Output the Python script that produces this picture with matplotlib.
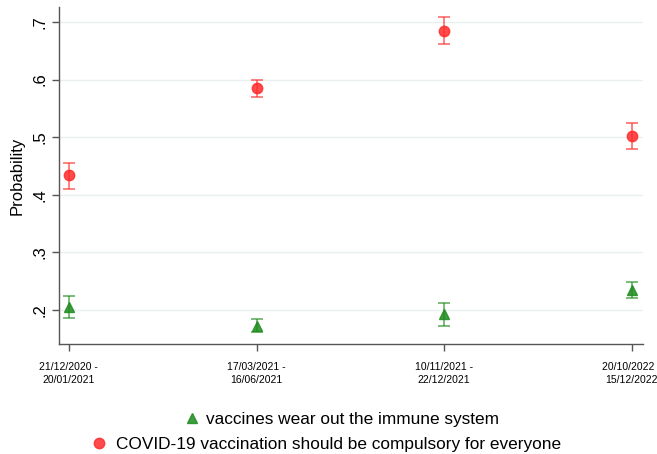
import matplotlib
matplotlib.use("Agg")
import matplotlib.pyplot as plt
from matplotlib.lines import Line2D

plt.rcParams['font.family'] = ['Liberation Sans', 'DejaVu Sans']

periods = ["21/12/2020 -\n20/01/2021", "17/03/2021 -\n16/06/2021",
           "10/11/2021 -\n22/12/2021", "20/10/2022 -\n15/12/2022"]
waves = [1, 2, 3, 4]

# vaccines wear out the immune system
wear_est = [0.206, 0.173, 0.193, 0.235]
wear_lo = [0.186, 0.161, 0.172, 0.220]
wear_hi = [0.225, 0.184, 0.213, 0.249]

# COVID-19 vaccination should be compulsory
comp_est = [0.434, 0.585, 0.685, 0.502]
comp_lo = [0.410, 0.570, 0.662, 0.479]
comp_hi = [0.456, 0.599, 0.708, 0.524]

yticks = [0.2, 0.3, 0.4, 0.5, 0.6, 0.7]
ytick_labels = [".2", ".3", ".4", ".5", ".6", ".7"]

red = "#ff2b2b"
green = "#1e8c1e"

fig = plt.figure(figsize=(6.57, 4.54), dpi=100)
ax = fig.add_axes([0.0892, 0.2423, 0.8895, 0.7423])

def draw_series(est, lo, hi, color, marker, ms):
    yerr = [[e - l for e, l in zip(est, lo)], [h - e for e, h in zip(est, hi)]]
    ax.errorbar(waves, est, yerr=yerr, fmt='none', ecolor=color, alpha=0.75,
                elinewidth=1.1, capsize=4.5, capthick=1.1, zorder=3)
    ax.plot(waves, est, linestyle='none', marker=marker, markersize=ms,
            color=color, markeredgecolor=color, alpha=0.85, zorder=4)

draw_series(wear_est, wear_lo, wear_hi, green, '^', 7.5)
draw_series(comp_est, comp_lo, comp_hi, red, 'o', 7.5)

ax.set_xlim(0.945, 4.06)
ax.set_ylim(0.141, 0.726)
ax.set_xticks(waves)
ax.set_xticklabels(periods, fontsize=7.5, linespacing=1.35)
ax.set_yticks(yticks)
ax.set_yticklabels(ytick_labels, fontsize=12, rotation=90, va='center')
ax.set_ylabel("Probability", fontsize=12, labelpad=6)

ax.grid(axis='y', color='#eaf0f0', linewidth=1.0)
ax.set_axisbelow(True)
for side in ['top', 'right']:
    ax.spines[side].set_visible(False)
for side in ['left', 'bottom']:
    ax.spines[side].set_color('#555555')
    ax.spines[side].set_linewidth(1.0)
ax.tick_params(axis='both', direction='out', length=5, width=1.0, color='#555555')
ax.tick_params(axis='x', pad=8)
ax.tick_params(axis='y', pad=3)

# one legend per row so each key is centred on its own
h_wear = Line2D([], [], linestyle='none', marker='^', markersize=7, color=green, alpha=0.85)
h_comp = Line2D([], [], linestyle='none', marker='o', markersize=7.5, color=red, alpha=0.85)
fig.legend([h_wear], ["vaccines wear out the immune system"], loc='center',
           bbox_to_anchor=(0.521, 0.075), frameon=False, fontsize=12.4,
           handlelength=0.8, handletextpad=0.4, borderpad=0)
fig.legend([h_comp], ["COVID-19 vaccination should be compulsory for everyone"], loc='center',
           bbox_to_anchor=(0.497, 0.022), frameon=False, fontsize=12.4,
           handlelength=0.8, handletextpad=0.6, borderpad=0)

fig.savefig("out.png", dpi=100)
